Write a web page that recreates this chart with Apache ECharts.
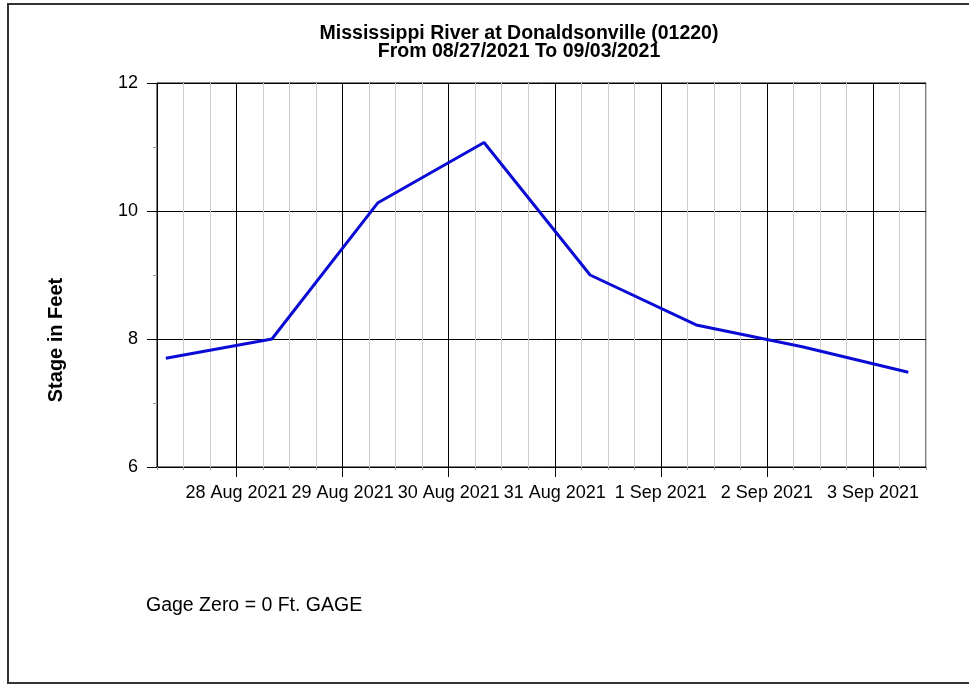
<!DOCTYPE html>
<html>
<head>
<meta charset="utf-8">
<script src="https://cdn.jsdelivr.net/npm/echarts@6/dist/echarts.min.js"></script>
<style>
html,body{margin:0;padding:0;background:#fff;}
#chart{width:969px;height:684px;}
</style>
</head>
<body>
<div id="chart"></div>
<script>
// Hours since 27 Aug 2021 00:00
var obsHours = [8, 32, 56, 80, 104, 128, 152, 176];
var stageFeet = [7.70, 8.00, 10.13, 11.07, 9.00, 8.22, 7.88, 7.48];
var dayTickHours = [24, 48, 72, 96, 120, 144, 168];
var dayTickLabels = ['28 Aug 2021', '29 Aug 2021', '30 Aug 2021', '31 Aug 2021', '1 Sep 2021', '2 Sep 2021', '3 Sep 2021'];
var yTicks = [6, 8, 10, 12];
var titleLines = ['Mississippi River at Donaldsonville (01220)', 'From 08/27/2021 To 09/03/2021'];
var yAxisName = 'Stage in Feet';
var footNote = 'Gage Zero = 0 Ft. GAGE';

var FONT = '"Liberation Sans", Arial, sans-serif';
var chart = echarts.init(document.getElementById('chart'), null, {renderer: 'canvas'});
var seriesData = obsHours.map(function (h, i) { return [h, stageFeet[i]]; });

chart.setOption({
  backgroundColor: '#ffffff',
  animation: false,
  title: {
    text: titleLines.join('\n'),
    left: 519,
    top: 25,
    padding: 0,
    textAlign: 'center',
    textStyle: {fontFamily: FONT, fontSize: 19.5, fontWeight: 'bold', color: '#000', lineHeight: 18}
  },
  grid: {left: 157, top: 83, width: 769, height: 384, show: true, borderColor: '#000', borderWidth: 1, containLabel: false},
  xAxis: [{
    type: 'value', min: 6, max: 180, interval: 6,
    axisLine: {show: true, lineStyle: {color: '#000', width: 1}},
    axisTick: {show: true, length: 3, lineStyle: {color: '#999'}},
    axisLabel: {show: false},
    splitLine: {show: true, lineStyle: {color: ['#cccccc', '#cccccc', '#cccccc', '#000000'], width: 1}}
  }, {
    type: 'value', min: 6, max: 180, interval: 6, position: 'bottom',
    axisLine: {show: false},
    axisTick: {show: true, length: 10, customValues: dayTickHours, lineStyle: {color: '#000'}},
    axisLabel: {
      show: true, customValues: dayTickHours, margin: 17,
      fontFamily: FONT, fontSize: 18, color: '#000',
      formatter: function (v) { var i = dayTickHours.indexOf(v); return i >= 0 ? dayTickLabels[i] : ''; }
    },
    splitLine: {show: false}
  }],
  yAxis: {
    type: 'value', min: yTicks[0], max: yTicks[yTicks.length - 1], interval: 2,
    axisLine: {show: true, lineStyle: {color: '#000'}},
    axisTick: {show: true, length: 10, lineStyle: {color: '#000'}},
    minorTick: {show: true, splitNumber: 2, length: 4, lineStyle: {color: '#999'}},
    axisLabel: {margin: 19, fontFamily: FONT, fontSize: 18, color: '#000'},
    splitLine: {show: true, lineStyle: {color: '#000', width: 1}}
  },
  series: [{
    type: 'line', xAxisIndex: 0, data: seriesData,
    symbol: 'none', lineStyle: {color: '#0b0bd6', width: 3}, z: 5
  }],
  graphic: [{
    type: 'rect', shape: {x: 8, y: 4, width: 1000, height: 679},
    style: {fill: null, stroke: '#333', lineWidth: 2}, silent: true
  }, {
    type: 'text', x: 56, y: 340, rotation: Math.PI / 2,
    style: {text: yAxisName, font: 'bold 20px ' + FONT, fill: '#000', align: 'center', verticalAlign: 'middle'}
  }, {
    type: 'text', x: 146, y: 606,
    style: {text: footNote, font: '19.5px ' + FONT, fill: '#000', verticalAlign: 'middle'}
  }]
});
</script>
</body>
</html>
